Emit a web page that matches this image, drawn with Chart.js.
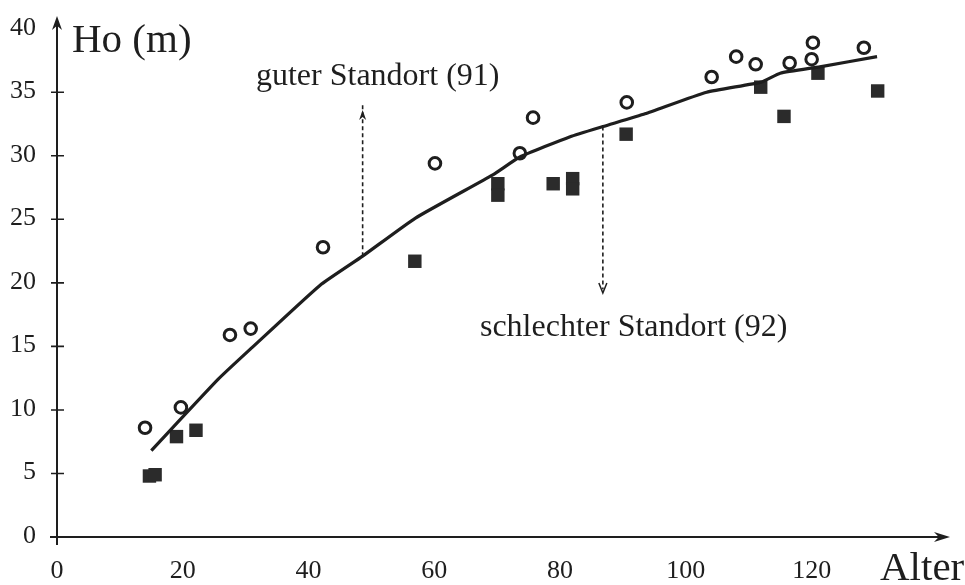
<!DOCTYPE html>
<html>
<head>
<meta charset="utf-8">
<script src="https://cdn.jsdelivr.net/npm/chart.js@4"></script>
<style>
  html, body { margin: 0; padding: 0; background: #fff; }
  #wrap { width: 965px; height: 585px; }
</style>
</head>
<body>
<div id="wrap"><canvas id="c"></canvas></div>
<script>
// Oberhöhe (Ho) über Alter, zwei Standorte
const goodAge = [14.0, 19.7, 27.5, 30.8, 42.3, 60.1, 73.6, 75.7, 90.6, 104.1, 108.0, 111.1, 116.5, 120.0, 120.2, 128.3];
const goodHo  = [8.6, 10.2, 15.9, 16.4, 22.8, 29.4, 30.2, 33.0, 34.2, 36.2, 37.8, 37.2, 37.3, 37.6, 38.9, 38.5];

const poorAge = [14.7, 15.6, 19.0, 22.1, 56.9, 70.1, 70.1, 78.9, 82.0, 82.0, 90.5, 111.9, 115.6, 121.0, 130.5];
const poorHo  = [4.8, 4.9, 7.9, 8.4, 21.7, 27.8, 26.9, 27.8, 28.2, 27.4, 31.7, 35.4, 33.1, 36.5, 35.1];

const curveAge = [15.0, 25.6, 31.0, 41.8, 48.6, 57.0, 69.3, 73.6, 81.6, 86.8, 93.5, 103.3, 112.0, 115.0, 121.3, 130.4];
const curveHo  = [6.8, 12.4, 14.9, 19.8, 22.1, 25.1, 28.5, 29.9, 31.5, 32.3, 33.3, 35.0, 35.8, 36.5, 37.0, 37.8];

const xTicks = [0, 20, 40, 60, 80, 100, 120];
const yTicks = [0, 5, 10, 15, 20, 25, 30, 35, 40];

// gestrichelte Pfeile: [x, von y, bis y]
const arrowGood = [48.6, 22.1, 33.6];
const arrowPoor = [86.8, 32.3, 19.2];
const labelGood = { text: 'guter Standort (91)', x: 51.0, y: 36.2 };
const labelPoor = { text: 'schlechter Standort (92)', x: 91.7, y: 16.5 };

const ink = '#1e1e1e';
const serif = '"Liberation Serif", "DejaVu Serif", serif';

const pts = (xs, ys) => xs.map((x, i) => ({ x: x, y: ys[i] }));

function arrowHead(ctx, x, y, dir, len, half, filled) {
  // dir: 'up' | 'down' | 'right'
  ctx.beginPath();
  if (dir === 'up') {
    ctx.moveTo(x, y); ctx.lineTo(x - half, y + len); ctx.lineTo(x, y + len * 0.7); ctx.lineTo(x + half, y + len);
  } else if (dir === 'down') {
    ctx.moveTo(x - half, y - len); ctx.lineTo(x, y); ctx.lineTo(x + half, y - len);
  } else {
    ctx.moveTo(x, y); ctx.lineTo(x - len, y - half); ctx.lineTo(x - len * 0.7, y); ctx.lineTo(x - len, y + half);
  }
  if (filled) { ctx.closePath(); ctx.fill(); } else { ctx.stroke(); }
}

const drawAxes = {
  id: 'drawAxes',
  afterDatasetsDraw(chart) {
    const ctx = chart.ctx;
    const xs = chart.scales.x, ys = chart.scales.y;
    const x0 = xs.getPixelForValue(0), y0 = ys.getPixelForValue(0);
    const xEnd = xs.getPixelForValue(xs.max), yTop = ys.getPixelForValue(ys.max);

    ctx.save();
    ctx.strokeStyle = ink;
    ctx.fillStyle = ink;
    ctx.lineWidth = 2;

    // axes
    ctx.beginPath();
    ctx.moveTo(x0, y0 + 8); ctx.lineTo(x0, yTop + 4);
    ctx.moveTo(x0 - 7, y0); ctx.lineTo(xEnd - 4, y0);
    ctx.stroke();
    arrowHead(ctx, x0, yTop, 'up', 14, 5, true);
    arrowHead(ctx, xEnd, y0, 'right', 16, 5, true);

    // y ticks
    ctx.lineWidth = 1.6;
    ctx.beginPath();
    yTicks.forEach(v => {
      if (v === 0 || v === 40) return;
      const py = ys.getPixelForValue(v);
      ctx.moveTo(x0 - 6, py); ctx.lineTo(x0 + 7, py);
    });
    ctx.stroke();

    // tick labels
    ctx.font = '26px ' + serif;
    ctx.textAlign = 'right';
    ctx.textBaseline = 'middle';
    yTicks.forEach(v => {
      ctx.fillText(String(v), 36, ys.getPixelForValue(v) - 1);
    });
    ctx.textAlign = 'center';
    xTicks.forEach(v => {
      ctx.fillText(String(v), xs.getPixelForValue(v), 571);
    });

    // axis titles
    ctx.font = '41px ' + serif;
    ctx.textAlign = 'left';
    ctx.textBaseline = 'alphabetic';
    ctx.fillText('Ho (m)', 72, 52);
    ctx.fillText('Alter', 880, 580);

    // annotation labels
    ctx.font = '32px ' + serif;
    ctx.textAlign = 'center';
    ctx.textBaseline = 'middle';
    [labelGood, labelPoor].forEach(l => {
      ctx.fillText(l.text, xs.getPixelForValue(l.x), ys.getPixelForValue(l.y));
    });

    // heads of the dashed arrows
    ctx.lineWidth = 1.5;
    arrowHead(ctx, xs.getPixelForValue(arrowGood[0]), ys.getPixelForValue(arrowGood[2]), 'up', 10, 3.5, true);
    arrowHead(ctx, xs.getPixelForValue(arrowPoor[0]), ys.getPixelForValue(arrowPoor[2]), 'down', 10, 4, false);
    ctx.restore();
  }
};

new Chart(document.getElementById('c'), {
  type: 'scatter',
  data: {
    datasets: [
      {
        label: 'Kurve',
        type: 'line',
        data: pts(curveAge, curveHo),
        borderColor: ink,
        borderWidth: 3.2,
        pointRadius: 0,
        tension: 0.15,
        fill: false
      },
      {
        label: 'guter Standort (91)',
        data: pts(goodAge, goodHo),
        pointStyle: 'circle',
        pointRadius: 5.8,
        borderWidth: 3,
        borderColor: ink,
        backgroundColor: '#fff'
      },
      {
        label: 'schlechter Standort (92)',
        data: pts(poorAge, poorHo),
        pointStyle: 'rect',
        pointRadius: 9.5,
        borderWidth: 0,
        backgroundColor: '#2b2b2b'
      },
      {
        label: 'Pfeil 91',
        type: 'line',
        data: [{ x: arrowGood[0], y: arrowGood[1] }, { x: arrowGood[0], y: arrowGood[2] + 0.6 }],
        borderColor: ink,
        borderWidth: 1.6,
        borderDash: [4, 3],
        pointRadius: 0
      },
      {
        label: 'Pfeil 92',
        type: 'line',
        data: [{ x: arrowPoor[0], y: arrowPoor[1] }, { x: arrowPoor[0], y: arrowPoor[2] + 0.3 }],
        borderColor: ink,
        borderWidth: 1.6,
        borderDash: [4, 3],
        pointRadius: 0
      }
    ]
  },
  options: {
    responsive: true,
    maintainAspectRatio: false,
    animation: false,
    layout: { padding: { left: 57, right: 15, top: 16, bottom: 48 } },
    plugins: {
      legend: { display: false },
      tooltip: { enabled: false }
    },
    scales: {
      x: { type: 'linear', min: 0, max: 142, display: false },
      y: { type: 'linear', min: 0, max: 41, display: false }
    }
  },
  plugins: [drawAxes]
});
</script>
</body>
</html>
